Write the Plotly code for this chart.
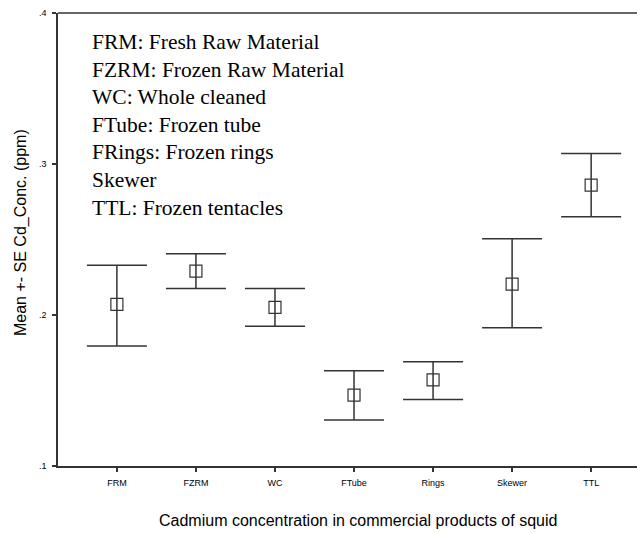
import plotly.graph_objects as go

categories = ["FRM", "FZRM", "WC", "FTube", "Rings", "Skewer", "TTL"]
means = [0.207, 0.229, 0.205, 0.147, 0.157, 0.2205, 0.286]
upper = [0.233, 0.2405, 0.2175, 0.163, 0.169, 0.2505, 0.307]
lower = [0.1795, 0.2175, 0.1925, 0.1305, 0.144, 0.1915, 0.265]
ytick_vals = [0.1, 0.2, 0.3, 0.4]
ytick_text = [".1", ".2", ".3", ".4"]
legend_lines = [
    "FRM: Fresh Raw Material",
    "FZRM: Frozen Raw Material",
    "WC: Whole cleaned",
    "FTube: Frozen tube",
    "FRings: Frozen rings",
    "Skewer",
    "TTL: Frozen tentacles",
]
x_title = "Cadmium concentration in commercial products of squid"
y_title = "Mean +- SE Cd_Conc. (ppm)"

err_plus = [u - m for u, m in zip(upper, means)]
err_minus = [m - l for m, l in zip(means, lower)]
xs = list(range(len(categories)))

fig = go.Figure()
fig.add_trace(go.Scatter(
    x=xs, y=means, mode="markers",
    marker=dict(symbol="square-open", size=12, color="#333333", line=dict(width=1.2, color="#333333")),
    error_y=dict(type="data", symmetric=False, array=err_plus, arrayminus=err_minus,
                 color="#333333", thickness=1.5, width=30),
    showlegend=False,
))

W, H = 637, 533
ml, mr, mt = 58, 0, 13
bottom_px = 466
mb = H - bottom_px
pw = W - ml - mr
ph = H - mt - mb

centers = [42.0, 69.6, 97.2, 124.8, 152.4, 180.0, 207.6]
for line, cy in zip(legend_lines, centers):
    fig.add_annotation(
        text=line, xref="paper", yref="paper",
        x=(90 - ml) / pw, y=(bottom_px - cy) / ph,
        xanchor="left", yanchor="middle", showarrow=False,
        font=dict(family="Liberation Serif, Times New Roman, serif", size=21.5, color="#000000"),
    )

fig.add_annotation(
    text=x_title, xref="paper", yref="paper",
    x=(358 - ml) / pw, y=(bottom_px - 520) / ph,
    xanchor="center", yanchor="middle", showarrow=False,
    font=dict(size=16, color="#000000"),
)
fig.add_annotation(
    text=y_title, xref="paper", yref="paper", textangle=-90,
    x=(21 - ml) / pw, y=(bottom_px - 233) / ph,
    xanchor="center", yanchor="middle", showarrow=False,
    font=dict(size=16, color="#000000"),
)

fig.update_layout(
    width=W, height=H,
    margin=dict(l=ml, r=mr, t=mt, b=mb, pad=0),
    paper_bgcolor="white", plot_bgcolor="white",
    font=dict(family="Liberation Sans, Arial, sans-serif", color="#000000"),
    xaxis=dict(
        range=[-0.745, 6.58], tickmode="array", tickvals=xs, ticktext=categories,
        showgrid=False, zeroline=False, showline=True, linecolor="#333333", linewidth=1.5,
        ticks="outside", ticklen=4, tickcolor="#333333", tickwidth=1.5,
        tickfont=dict(size=9), ticklabelstandoff=3, automargin=False,
    ),
    yaxis=dict(
        range=[0.1, 0.4], tickmode="array", tickvals=ytick_vals, ticktext=ytick_text,
        showgrid=False, zeroline=False, showline=True, linecolor="#333333", linewidth=1.5,
        ticks="outside", ticklen=4, tickcolor="#333333", tickwidth=1.5,
        tickfont=dict(size=9), ticklabelstandoff=4, automargin=False,
    ),
    shapes=[dict(type="line", xref="paper", yref="paper", x0=0, x1=1, y0=1, y1=1,
                 line=dict(color="#333333", width=1.5))],
)

fig.write_html(
    "out.html",
    config={"displayModeBar": False},
    post_script="document.body.style.margin='0';document.body.style.overflow='hidden';",
)
